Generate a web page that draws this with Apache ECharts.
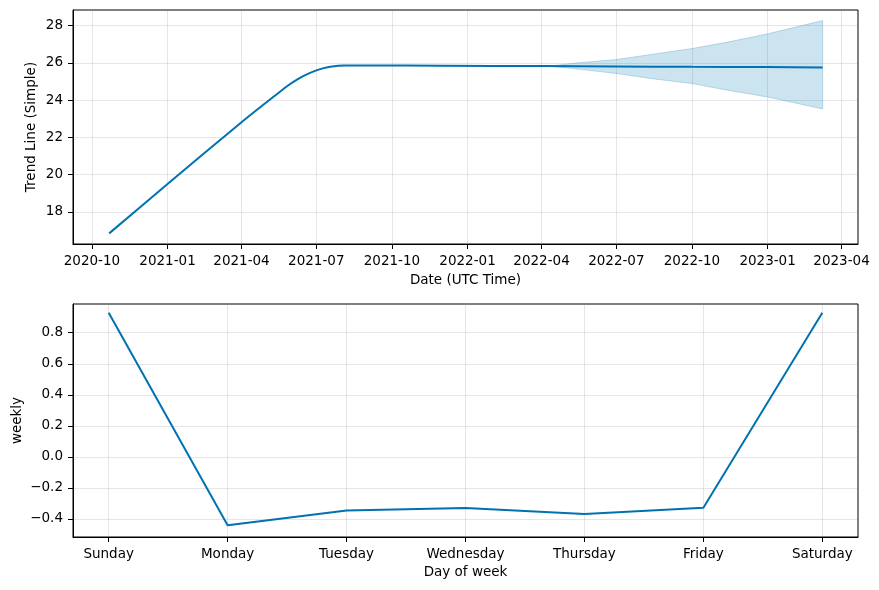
<!DOCTYPE html>
<html>
<head>
<meta charset="utf-8">
<script src="https://cdn.jsdelivr.net/npm/echarts@6/dist/echarts.min.js"></script>
<style>
  html, body { margin: 0; padding: 0; background: #fff; }
  #main { width: 879px; height: 590px; }
</style>
</head>
<body>
<div id="main"></div>
<script>
// trend component
var trendDates = ['2020-10-22', '2021-01-01', '2021-04-01', '2021-05-17', '2021-05-28', '2021-06-08',
    '2021-06-20', '2021-07-02', '2021-07-10', '2021-07-18', '2021-08-04', '2021-09-01', '2021-12-01',
    '2022-04-01', '2022-07-01', '2022-10-01', '2023-01-01', '2023-03-09'];
var trendValues = [16.85, 19.50, 22.82, 24.43, 24.80, 25.12,
    25.40, 25.61, 25.72, 25.80, 25.86, 25.86, 25.85,
    25.83, 25.81, 25.79, 25.78, 25.76];

// uncertainty band of the trend forecast
var bandDates = ['2022-04-01', '2022-04-15', '2022-05-13', '2022-07-01', '2022-08-16', '2022-10-01',
    '2022-11-15', '2023-01-01', '2023-03-09'];
var bandLower = [25.83, 25.80, 25.68, 25.43, 25.14, 24.89, 24.52, 24.17, 23.53];
var bandUpper = [25.83, 25.85, 26.00, 26.18, 26.48, 26.77, 27.13, 27.56, 28.27];

// weekly component
var weekDays = ['Sunday', 'Monday', 'Tuesday', 'Wednesday', 'Thursday', 'Friday', 'Saturday'];
var weeklyValues = [0.929, -0.441, -0.345, -0.329, -0.368, -0.327, 0.929];

// tick labels
var dateTicks = ['2020-10', '2021-01', '2021-04', '2021-07', '2021-10', '2022-01',
    '2022-04', '2022-07', '2022-10', '2023-01', '2023-04'];
var trendTicks = [18, 20, 22, 24, 26, 28];
var weeklyTicks = [-0.4, -0.2, 0.0, 0.2, 0.4, 0.6, 0.8];

var blue = '#0072B2';
var font = 'DejaVu Sans';

function utc(s) {
    var p = s.split('-');
    return Date.UTC(+p[0], (+p[1] || 1) - 1, +p[2] || 1);
}
function pad(n) { return n < 10 ? '0' + n : '' + n; }
function minus(s) { return s.replace('-', '\u2212'); }

var dateTickValues = dateTicks.map(utc);
var weekIdx = weekDays.map(function (d, i) { return i; });

var gridLine = { show: true, lineStyle: { color: 'rgba(128,128,128,0.2)', width: 1 } };
var axLine = { show: true, onZero: false, lineStyle: { color: '#000', width: 1 } };
var labelStyle = { color: '#000', fontFamily: font, fontSize: 13.5 };
var nameStyle = { color: '#000', fontFamily: font, fontSize: 13.5 };

function tick(values) {
    return { show: true, inside: false, length: 5, lineStyle: { color: '#000', width: 1 }, customValues: values };
}

// band polygon: upper edge forward, lower edge back, placed through the axes
function renderBand(params, api) {
    if (params.dataIndex !== 0) return;
    var pts = [];
    var i;
    for (i = 0; i < bandDates.length; i++) {
        pts.push(api.coord([utc(bandDates[i]), bandUpper[i]]));
    }
    for (i = bandDates.length - 1; i >= 0; i--) {
        pts.push(api.coord([utc(bandDates[i]), bandLower[i]]));
    }
    return {
        type: 'polygon',
        shape: { points: pts },
        style: { fill: 'rgba(0,114,178,0.2)', stroke: 'rgba(0,114,178,0.22)', lineWidth: 1 }
    };
}

var option = {
    backgroundColor: '#fff',
    animation: false,
    grid: [
        { left: 73, right: 21, top: 10, height: 234, show: true, borderColor: '#000', borderWidth: 1, outerBoundsMode: 'none' },
        { left: 73, right: 21, top: 304, height: 233, show: true, borderColor: '#000', borderWidth: 1, outerBoundsMode: 'none' }
    ],
    xAxis: [
        {
            // dates kept as UTC timestamps on a plain value scale
            type: 'value', gridIndex: 0, scale: true,
            min: utc('2020-09-08'), max: utc('2023-04-21'),
            name: 'Date (UTC Time)', nameLocation: 'middle', nameGap: 29, nameMoveOverlap: false,
            nameTextStyle: nameStyle,
            axisLine: axLine, axisTick: tick(dateTickValues), splitLine: gridLine,
            axisLabel: Object.assign({
                margin: 10, customValues: dateTickValues, hideOverlap: false,
                formatter: function (v) {
                    var d = new Date(v);
                    return d.getUTCFullYear() + '-' + pad(d.getUTCMonth() + 1);
                }
            }, labelStyle)
        },
        {
            type: 'value', gridIndex: 1, min: -0.3, max: 6.3,
            name: 'Day of week', nameLocation: 'middle', nameGap: 28, nameMoveOverlap: false,
            nameTextStyle: nameStyle,
            axisLine: axLine, axisTick: tick(weekIdx), splitLine: gridLine,
            axisLabel: Object.assign({
                margin: 10, customValues: weekIdx,
                formatter: function (v) { return weekDays[Math.round(v)]; }
            }, labelStyle)
        }
    ],
    yAxis: [
        {
            type: 'value', gridIndex: 0, min: 16.28, max: 28.84,
            name: 'Trend Line (Simple)', nameLocation: 'middle', nameGap: 35, nameMoveOverlap: false,
            nameTextStyle: nameStyle,
            axisLine: axLine, axisTick: tick(trendTicks), splitLine: gridLine,
            axisLabel: Object.assign({
                margin: 10, customValues: trendTicks,
                formatter: function (v) { return String(Math.round(v)); }
            }, labelStyle)
        },
        {
            type: 'value', gridIndex: 1, min: -0.516, max: 0.985,
            name: 'weekly', nameLocation: 'middle', nameGap: 49, nameMoveOverlap: false,
            nameTextStyle: nameStyle,
            axisLine: axLine, axisTick: tick(weeklyTicks), splitLine: gridLine,
            axisLabel: Object.assign({
                margin: 10, customValues: weeklyTicks,
                formatter: function (v) { return minus(v.toFixed(1)); }
            }, labelStyle)
        }
    ],
    series: [
        {
            name: 'band', type: 'custom', xAxisIndex: 0, yAxisIndex: 0,
            silent: true, clip: true,
            renderItem: renderBand,
            data: [[utc(bandDates[0]), bandLower[0]]]
        },
        {
            name: 'trend', type: 'line', xAxisIndex: 0, yAxisIndex: 0,
            symbol: 'none', smooth: 0.25, lineStyle: { color: blue, width: 2 },
            data: trendDates.map(function (d, i) { return [utc(d), trendValues[i]]; })
        },
        {
            name: 'weekly', type: 'line', xAxisIndex: 1, yAxisIndex: 1,
            symbol: 'none', lineStyle: { color: blue, width: 2 },
            data: weeklyValues.map(function (v, i) { return [i, v]; })
        }
    ]
};

var myChart = echarts.init(document.getElementById('main'), null, { renderer: 'canvas' });
myChart.setOption(option);
</script>
</body>
</html>
